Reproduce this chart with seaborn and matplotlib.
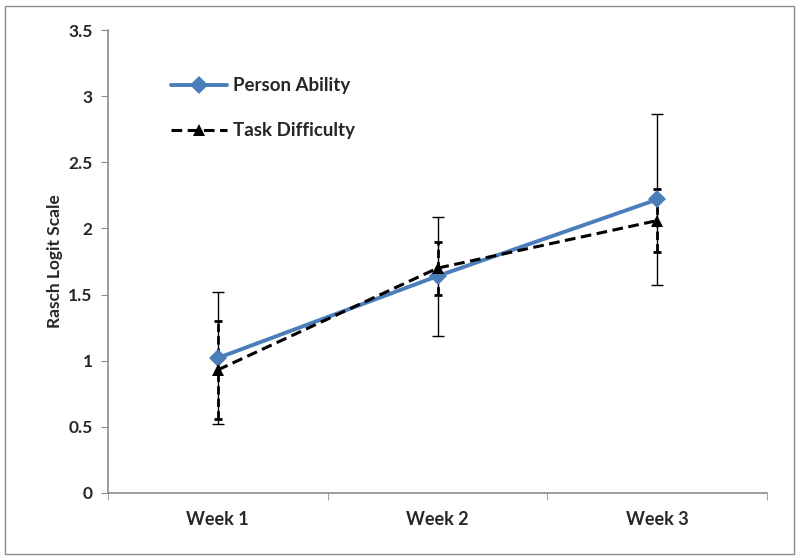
import pandas as pd
import matplotlib
matplotlib.use("Agg")
import matplotlib.pyplot as plt
import seaborn as sns
from matplotlib.patches import Rectangle
from matplotlib.ticker import FixedLocator

weeks = ["Week 1", "Week 2", "Week 3"]
person_ability = [1.02, 1.64, 2.22]
person_err = [0.50, 0.45, 0.65]
task_difficulty = [0.93, 1.70, 2.06]
task_err = [0.37, 0.20, 0.24]

sns.set_style("white")
plt.rcParams['font.family'] = ['Lato', 'DejaVu Sans']

df = pd.DataFrame({
    "week": weeks * 2,
    "value": person_ability + task_difficulty,
    "series": ["Person Ability"] * 3 + ["Task Difficulty"] * 3,
})

fig = plt.figure(figsize=(8, 5.6), dpi=100)
ax = fig.add_axes([0.135, 0.12, 0.824, 0.826])

# outer chart border
fig.patches.append(Rectangle((0.006, 0.01), 0.986, 0.98, transform=fig.transFigure,
                             fill=False, edgecolor="#8c8c8c", linewidth=1))

xpos = list(range(len(weeks)))

# error bars first (underneath the lines)
ax.errorbar(xpos, person_ability, yerr=person_err, fmt="none", ecolor="black",
            elinewidth=1, capsize=4, capthick=1, zorder=2)
eb = ax.errorbar(xpos, task_difficulty, yerr=task_err, fmt="none", ecolor="black",
                 elinewidth=2, capsize=3, capthick=2, zorder=2)
eb[2][0].set_linestyle((0, (3, 1.5)))

person = df[df["series"] == "Person Ability"].copy()
task = df[df["series"] == "Task Difficulty"].copy()
person["x"] = xpos
task["x"] = xpos

sns.lineplot(data=person, x="x", y="value", ax=ax, color="#4a7ebb", linewidth=2.8,
             marker="D", markersize=9, markeredgewidth=0, label="Person Ability", zorder=3)
sns.lineplot(data=task, x="x", y="value", ax=ax, color="black", linewidth=2.2,
             linestyle=(0, (3.5, 1.8)), marker="^", markersize=8, markeredgewidth=0,
             label="Task Difficulty", zorder=4)

ax.set_xlim(-0.5, 2.5)
ax.set_ylim(0, 3.5)
ax.set_yticks([0, 0.5, 1, 1.5, 2, 2.5, 3, 3.5])
ax.set_yticklabels(["0", "0.5", "1", "1.5", "2", "2.5", "3", "3.5"])
ax.set_xticks(xpos)
ax.set_xticklabels(weeks)
ax.xaxis.set_minor_locator(FixedLocator([-0.5, 0.5, 1.5, 2.5]))

ax.set_xlabel("")
ax.set_ylabel("Rasch Logit Scale", fontsize=12.5, fontweight="bold", labelpad=4)

for side in ["top", "right"]:
    ax.spines[side].set_visible(False)
for side in ["left", "bottom"]:
    ax.spines[side].set_color("#8c8c8c")
    ax.spines[side].set_linewidth(1.2)

ax.tick_params(axis="y", which="major", direction="out", length=5, color="#8c8c8c",
               labelsize=12.5, pad=6, left=True)
ax.tick_params(axis="x", which="major", length=0, labelsize=13, pad=13, bottom=True)
ax.tick_params(axis="x", which="minor", direction="out", length=5, color="#8c8c8c", bottom=True)
for lbl in ax.get_xticklabels() + ax.get_yticklabels():
    lbl.set_fontweight("bold")

leg = ax.legend(loc="upper left", bbox_to_anchor=(0.07, 0.935), frameon=False,
                labelspacing=1.5, handlelength=3.0, handletextpad=0.3,
                prop={"weight": "bold", "size": 13.5})

fig.savefig("out.png", dpi=100)
